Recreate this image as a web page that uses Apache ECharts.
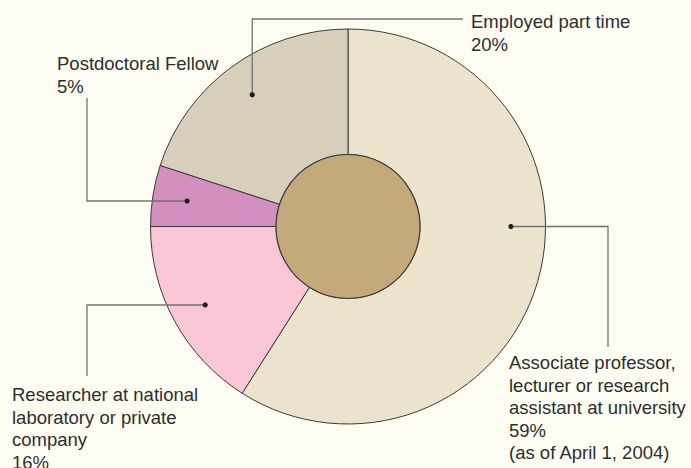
<!DOCTYPE html>
<html lang="en">
  <head>
    <meta charset="UTF-8" />
    <title>Career paths</title>
    <script src="https://cdn.jsdelivr.net/npm/echarts@6/dist/echarts.min.js"></script>
  </head>
  <style>
    body,
    html {
      margin: 0;
      padding: 0;
      background: #fdfdf4;
    }
  </style>

  <body>
    <div id="chart" style="width:691px;height:468px"></div>
  </body>
  <script>
    // slices, clockwise from 12 o'clock
    var names = [
      "Associate professor, lecturer or research assistant at university",
      "Researcher at national laboratory or private company",
      "Postdoctoral Fellow",
      "Employed part time"
    ];
    var shares = [59, 16, 5, 20];
    var labelText = [
      "Associate professor,\nlecturer or research\nassistant at university\n59%\n(as of April 1, 2004)",
      "Researcher at national\nlaboratory or private\ncompany\n16%",
      "Postdoctoral Fellow\n5%",
      "Employed part time\n20%"
    ];
    var sliceColors = ["#ebe3cc", "#f8c6d4", "#d38fbf", "#d7cfbc"];

    // leader lines: dot at [% of outer radius, % around], elbow route, line end, text top-left
    var leaders = [
      { at: [82.5, 25], route: "hv", end: [608, 347], text: [509, 351.5] },
      { at: [82.5, 67], route: "hv", end: [87, 376], text: [12, 383.5] },
      { at: [82.5, 77.5], route: "hv", end: [87, 98], text: [57, 52.5] },
      { at: [82.5, 90], route: "vh", end: [463, 19], text: [471, 10.5] }
    ];

    var center = [348, 226.5];
    var outerR = 197.5;
    var holeR = 72;

    let chart = echarts.init(document.querySelector("#chart"), null, {
      renderer: "svg"
    });

    var option = {
      backgroundColor: "#fdfdf4",
      animation: false,
      polar: { center: center, radius: outerR },
      angleAxis: {
        type: "value",
        min: 0,
        max: 100,
        startAngle: 90,
        clockwise: true,
        show: false
      },
      radiusAxis: { type: "value", min: 0, max: 100, show: false },
      series: [
        {
          type: "pie",
          center: center,
          radius: [holeR, outerR],
          startAngle: 90,
          clockwise: true,
          silent: true,
          label: { show: false },
          labelLine: { show: false },
          itemStyle: { borderColor: "#3a3a3a", borderWidth: 1 },
          data: names.map(function(n, i) {
            return {
              name: n,
              value: shares[i],
              itemStyle: { color: sliceColors[i] }
            };
          })
        },
        {
          // hole in the middle
          type: "pie",
          center: center,
          radius: [0, holeR],
          silent: true,
          label: { show: false },
          labelLine: { show: false },
          itemStyle: {
            color: "#c4a97a",
            borderColor: "#3a3a3a",
            borderWidth: 1.2
          },
          data: [{ name: "hole", value: 1 }]
        },
        {
          type: "custom",
          coordinateSystem: "polar",
          z: 5,
          silent: true,
          data: leaders.map(function(l) {
            return l.at;
          }),
          renderItem: function(params, api) {
            var i = params.dataIndex;
            var lay = leaders[i];
            var p = api.coord([api.value(0), api.value(1)]);
            var elbow =
              lay.route === "vh" ? [p[0], lay.end[1]] : [lay.end[0], p[1]];
            return {
              type: "group",
              children: [
                {
                  type: "polyline",
                  shape: { points: [[p[0], p[1]], elbow, lay.end] },
                  style: { stroke: "#727272", lineWidth: 1.3, fill: null }
                },
                {
                  type: "circle",
                  shape: { cx: p[0], cy: p[1], r: 2.6 },
                  style: { fill: "#1e1e1e" }
                },
                {
                  type: "text",
                  x: lay.text[0],
                  y: lay.text[1],
                  style: {
                    text: labelText[i],
                    fill: "#2e2e2e",
                    fontSize: 18.5,
                    fontFamily: "Liberation Sans",
                    lineHeight: 22.5,
                    align: "left",
                    verticalAlign: "top"
                  }
                }
              ]
            };
          }
        }
      ]
    };

    chart.setOption(option);
  </script>
</html>
